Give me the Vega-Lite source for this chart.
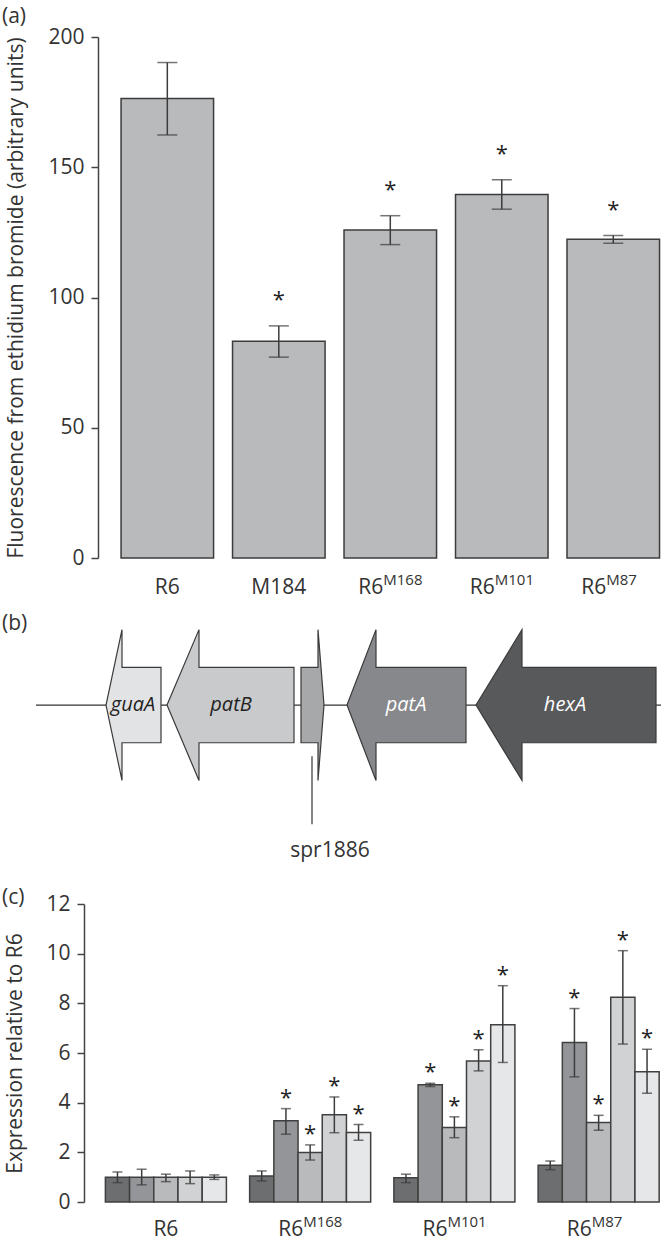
{
  "$schema": "https://vega.github.io/schema/vega-lite/v6.json",
  "padding": {"left": 2, "top": 6, "right": 0, "bottom": 4},
  "spacing": 2,
  "config": {
    "font": "Open Sans",
    "view": {"stroke": null},
    "axis": {"domainColor": "#444", "tickColor": "#444", "labelColor": "#333", "titleColor": "#333", "labelFontSize": 21, "titleFontSize": 21, "titleFontWeight": "normal", "grid": false, "tickSize": 7, "domainWidth": 1.5, "tickWidth": 1.5, "labelPadding": 7},
    "title": {"fontSize": 21, "fontWeight": "normal", "color": "#333", "anchor": "start", "frame": "group"}
  },
  "resolve": {"scale": {"fill": "independent"}},
  "vconcat": [
    {
      "width": 563,
      "height": 521,
      "title": {"text": "(a)", "dx": -96, "offset": -1},
      "data": {"values": [
        {"strain": "R6", "base": "R6", "sup": "", "mean": 176.4, "lo": 162.4, "hi": 190.2, "sig": false},
        {"strain": "M184", "base": "M184", "sup": "", "mean": 83.2, "lo": 77.1, "hi": 89.1, "sig": true},
        {"strain": "R6M168", "base": "R6", "sup": "M168", "mean": 125.9, "lo": 120.3, "hi": 131.4, "sig": true},
        {"strain": "R6M101", "base": "R6", "sup": "M101", "mean": 139.5, "lo": 133.9, "hi": 145.2, "sig": true},
        {"strain": "R6M87", "base": "R6", "sup": "M87", "mean": 122.4, "lo": 120.8, "hi": 123.8, "sig": true}
      ]},
      "encoding": {
        "x": {"field": "strain", "type": "nominal", "sort": null, "axis": null, "scale": {"paddingInner": 0.17, "paddingOuter": 0.11, "align": 0.94}}
      },
      "layer": [
        {
          "mark": {"type": "bar", "fill": "#b9babc", "stroke": "#3c3c3c", "strokeWidth": 1.5},
          "encoding": {"y": {"field": "mean", "type": "quantitative", "scale": {"domain": [0, 200]}, "title": "Fluorescence from ethidium bromide (arbitrary units)", "axis": {"values": [0, 50, 100, 150, 200], "titlePadding": 21}}}
        },
        {
          "mark": {"type": "rule", "color": "#3c3c3c", "strokeWidth": 1.5},
          "encoding": {"y": {"field": "lo", "type": "quantitative", "title": "Fluorescence from ethidium bromide (arbitrary units)"}, "y2": {"field": "hi"}}
        },
        {
          "mark": {"type": "tick", "color": "#3c3c3c", "size": 20, "thickness": 1.5},
          "encoding": {"y": {"field": "hi", "type": "quantitative", "title": "Fluorescence from ethidium bromide (arbitrary units)"}}
        },
        {
          "mark": {"type": "tick", "color": "#3c3c3c", "size": 20, "thickness": 1.5},
          "encoding": {"y": {"field": "lo", "type": "quantitative", "title": "Fluorescence from ethidium bromide (arbitrary units)"}}
        },
        {
          "transform": [{"filter": "datum.sig"}],
          "mark": {"type": "text", "text": "*", "fontSize": 22, "color": "#222", "baseline": "alphabetic", "dy": -19},
          "encoding": {"y": {"field": "hi", "type": "quantitative", "title": "Fluorescence from ethidium bromide (arbitrary units)"}}
        },
        {
          "transform": [{"filter": "datum.sup == ''"}],
          "mark": {"type": "text", "fontSize": 21, "color": "#333", "baseline": "alphabetic", "align": "center", "dy": 36},
          "encoding": {"y": {"datum": 0, "type": "quantitative"}, "text": {"field": "base"}}
        },
        {
          "transform": [{"filter": "datum.sup != ''"}],
          "mark": {"type": "text", "fontSize": 21, "color": "#333", "baseline": "alphabetic", "align": "right", "dy": 36, "dx": -7},
          "encoding": {"y": {"datum": 0, "type": "quantitative"}, "text": {"field": "base"}}
        },
        {
          "transform": [{"filter": "datum.sup != ''"}],
          "mark": {"type": "text", "fontSize": 15, "color": "#333", "baseline": "alphabetic", "align": "left", "dy": 27, "dx": -7},
          "encoding": {"y": {"datum": 0, "type": "quantitative"}, "text": {"field": "sup"}}
        }
      ]
    },
    {
      "width": 563,
      "height": 285,
      "title": {"text": "(b)", "dx": -96, "offset": -34},
      "layer": [
        {
          "data": {"values": [{"pos": 0, "v": 0}, {"pos": 6250, "v": 0}]},
          "mark": {"type": "line", "color": "#333", "strokeWidth": 1.2},
          "encoding": {
            "x": {"field": "pos", "type": "quantitative", "scale": {"domain": [620, 6250], "nice": false, "zero": false}, "axis": null},
            "y": {"field": "v", "type": "quantitative", "scale": {"domain": [-2.387, 1.393], "nice": false, "zero": false}, "axis": null}
          }
        },
        {
          "data": {"values": [
            {"feature": "guaA", "pos": 700, "top": 0, "bot": 0},
            {"feature": "guaA", "pos": 860, "top": 1, "bot": -1},
            {"feature": "guaA", "pos": 860, "top": 0.5, "bot": -0.5},
            {"feature": "guaA", "pos": 1250, "top": 0.5, "bot": -0.5},
            {"feature": "patB", "pos": 1310, "top": 0, "bot": 0},
            {"feature": "patB", "pos": 1630, "top": 1, "bot": -1},
            {"feature": "patB", "pos": 1630, "top": 0.5, "bot": -0.5},
            {"feature": "patB", "pos": 2580, "top": 0.5, "bot": -0.5},
            {"feature": "spr1886", "pos": 2650, "top": 0.5, "bot": -0.5},
            {"feature": "spr1886", "pos": 2820, "top": 0.5, "bot": -0.5},
            {"feature": "spr1886", "pos": 2820, "top": 1, "bot": -1},
            {"feature": "spr1886", "pos": 2880, "top": 0, "bot": 0},
            {"feature": "patA", "pos": 3110, "top": 0, "bot": 0},
            {"feature": "patA", "pos": 3400, "top": 1, "bot": -1},
            {"feature": "patA", "pos": 3400, "top": 0.5, "bot": -0.5},
            {"feature": "patA", "pos": 4300, "top": 0.5, "bot": -0.5},
            {"feature": "hexA", "pos": 4400, "top": 0, "bot": 0},
            {"feature": "hexA", "pos": 4860, "top": 1, "bot": -1},
            {"feature": "hexA", "pos": 4860, "top": 0.5, "bot": -0.5},
            {"feature": "hexA", "pos": 6200, "top": 0.5, "bot": -0.5}
          ]},
          "mark": {"type": "area", "orient": "vertical", "stroke": "#3a3a3a", "strokeWidth": 1.2, "fillOpacity": 1},
          "encoding": {
            "x": {"field": "pos", "type": "quantitative"},
            "y": {"field": "top", "type": "quantitative"},
            "y2": {"field": "bot"},
            "fill": {"field": "feature", "type": "nominal", "legend": null, "scale": {"domain": ["guaA", "patB", "spr1886", "patA", "hexA"], "range": ["#e2e3e5", "#c9cacc", "#a7a8aa", "#87888b", "#58595b"]}}
          }
        },
        {
          "data": {"values": [{"pos": 2760, "a": -0.68, "b": -1.58}]},
          "mark": {"type": "rule", "color": "#333", "strokeWidth": 1.2},
          "encoding": {"x": {"field": "pos", "type": "quantitative"}, "y": {"field": "a", "type": "quantitative"}, "y2": {"field": "b"}}
        },
        {
          "data": {"values": [
            {"name": "guaA", "pos": 970, "v": 0, "tone": "dark"},
            {"name": "patB", "pos": 1950, "v": 0, "tone": "dark"},
            {"name": "patA", "pos": 3700, "v": 0, "tone": "light"},
            {"name": "hexA", "pos": 5290, "v": 0, "tone": "light"}
          ]},
          "mark": {"type": "text", "fontSize": 20, "fontStyle": "italic", "baseline": "middle", "align": "center"},
          "encoding": {
            "x": {"field": "pos", "type": "quantitative"},
            "y": {"field": "v", "type": "quantitative"},
            "text": {"field": "name"},
            "color": {"field": "tone", "type": "nominal", "legend": null, "scale": {"domain": ["dark", "light"], "range": ["#222222", "#ffffff"]}}
          }
        },
        {
          "data": {"values": [{"name": "spr1886", "pos": 2940, "v": -1.94}]},
          "mark": {"type": "text", "fontSize": 21, "baseline": "middle", "align": "center", "color": "#333"},
          "encoding": {"x": {"field": "pos", "type": "quantitative"}, "y": {"field": "v", "type": "quantitative"}, "text": {"field": "name"}}
        }
      ]
    },
    {
      "width": 563,
      "height": 298,
      "title": {"text": "(c)", "dx": -96, "offset": -15},
      "data": {"values": [
        {"group": "R6", "gene": "hexA", "mean": 1.0, "lo": 0.78, "hi": 1.21, "sig": false},
        {"group": "R6", "gene": "patA", "mean": 1.0, "lo": 0.69, "hi": 1.32, "sig": false},
        {"group": "R6", "gene": "spr1886", "mean": 1.0, "lo": 0.82, "hi": 1.12, "sig": false},
        {"group": "R6", "gene": "patB", "mean": 1.0, "lo": 0.74, "hi": 1.25, "sig": false},
        {"group": "R6", "gene": "guaA", "mean": 1.0, "lo": 0.91, "hi": 1.09, "sig": false},
        {"group": "R6M168", "gene": "hexA", "mean": 1.05, "lo": 0.85, "hi": 1.25, "sig": false},
        {"group": "R6M168", "gene": "patA", "mean": 3.27, "lo": 2.73, "hi": 3.76, "sig": true},
        {"group": "R6M168", "gene": "spr1886", "mean": 1.99, "lo": 1.69, "hi": 2.3, "sig": true},
        {"group": "R6M168", "gene": "patB", "mean": 3.51, "lo": 2.79, "hi": 4.23, "sig": true},
        {"group": "R6M168", "gene": "guaA", "mean": 2.8, "lo": 2.49, "hi": 3.12, "sig": true},
        {"group": "R6M101", "gene": "hexA", "mean": 0.98, "lo": 0.78, "hi": 1.12, "sig": false},
        {"group": "R6M101", "gene": "patA", "mean": 4.72, "lo": 4.65, "hi": 4.78, "sig": true},
        {"group": "R6M101", "gene": "spr1886", "mean": 3.0, "lo": 2.59, "hi": 3.43, "sig": true},
        {"group": "R6M101", "gene": "patB", "mean": 5.68, "lo": 5.28, "hi": 6.13, "sig": true},
        {"group": "R6M101", "gene": "guaA", "mean": 7.14, "lo": 5.62, "hi": 8.71, "sig": true},
        {"group": "R6M87", "gene": "hexA", "mean": 1.48, "lo": 1.3, "hi": 1.65, "sig": false},
        {"group": "R6M87", "gene": "patA", "mean": 6.42, "lo": 5.04, "hi": 7.79, "sig": true},
        {"group": "R6M87", "gene": "spr1886", "mean": 3.2, "lo": 2.89, "hi": 3.49, "sig": true},
        {"group": "R6M87", "gene": "patB", "mean": 8.24, "lo": 6.36, "hi": 10.12, "sig": true},
        {"group": "R6M87", "gene": "guaA", "mean": 5.25, "lo": 4.38, "hi": 6.15, "sig": true}
      ]},
      "encoding": {
        "x": {"field": "group", "type": "nominal", "sort": ["R6", "R6M168", "R6M101", "R6M87"], "axis": null, "scale": {"paddingInner": 0.161, "paddingOuter": 0.032, "align": 0.8}}
      },
      "layer": [
        {
          "mark": {"type": "bar", "stroke": "#404040", "strokeWidth": 1.5},
          "encoding": {
            "xOffset": {"field": "gene", "type": "nominal", "sort": ["hexA", "patA", "spr1886", "patB", "guaA"], "scale": {"paddingInner": 0, "paddingOuter": 0}},
            "y": {"field": "mean", "type": "quantitative", "scale": {"domain": [0, 12]}, "title": "Expression relative to R6", "axis": {"values": [0, 2, 4, 6, 8, 10, 12], "offset": 14, "titlePadding": 20}},
            "fill": {"field": "gene", "type": "nominal", "legend": null, "scale": {"domain": ["hexA", "patA", "spr1886", "patB", "guaA"], "range": ["#6d6e70", "#939598", "#b9babc", "#d1d2d4", "#e6e7e8"]}}
          }
        },
        {
          "mark": {"type": "rule", "color": "#3c3c3c", "strokeWidth": 1.5},
          "encoding": {
            "xOffset": {"field": "gene", "type": "nominal", "sort": ["hexA", "patA", "spr1886", "patB", "guaA"]},
            "y": {"field": "lo", "type": "quantitative", "title": "Expression relative to R6"}, "y2": {"field": "hi"}
          }
        },
        {
          "mark": {"type": "tick", "color": "#3c3c3c", "size": 10, "thickness": 1.5},
          "encoding": {
            "xOffset": {"field": "gene", "type": "nominal", "sort": ["hexA", "patA", "spr1886", "patB", "guaA"]},
            "y": {"field": "hi", "type": "quantitative", "title": "Expression relative to R6"}
          }
        },
        {
          "mark": {"type": "tick", "color": "#3c3c3c", "size": 10, "thickness": 1.5},
          "encoding": {
            "xOffset": {"field": "gene", "type": "nominal", "sort": ["hexA", "patA", "spr1886", "patB", "guaA"]},
            "y": {"field": "lo", "type": "quantitative", "title": "Expression relative to R6"}
          }
        },
        {
          "transform": [{"filter": "datum.sig"}],
          "mark": {"type": "text", "text": "*", "fontSize": 22, "color": "#222", "baseline": "alphabetic", "dy": -4},
          "encoding": {
            "xOffset": {"field": "gene", "type": "nominal", "sort": ["hexA", "patA", "spr1886", "patB", "guaA"]},
            "y": {"field": "hi", "type": "quantitative", "title": "Expression relative to R6"}
          }
        },
        {
          "data": {"values": [
            {"group": "R6", "base": "R6", "sup": ""},
            {"group": "R6M168", "base": "R6", "sup": "M168"},
            {"group": "R6M101", "base": "R6", "sup": "M101"},
            {"group": "R6M87", "base": "R6", "sup": "M87"}
          ]},
          "layer": [
            {
              "transform": [{"filter": "datum.sup == ''"}],
              "mark": {"type": "text", "fontSize": 21, "color": "#333", "baseline": "alphabetic", "align": "center", "dy": 34},
              "encoding": {"y": {"datum": 0, "type": "quantitative"}, "text": {"field": "base"}}
            },
            {
              "transform": [{"filter": "datum.sup != ''"}],
              "mark": {"type": "text", "fontSize": 21, "color": "#333", "baseline": "alphabetic", "align": "right", "dy": 34, "dx": -7},
              "encoding": {"y": {"datum": 0, "type": "quantitative"}, "text": {"field": "base"}}
            },
            {
              "transform": [{"filter": "datum.sup != ''"}],
              "mark": {"type": "text", "fontSize": 15, "color": "#333", "baseline": "alphabetic", "align": "left", "dy": 25, "dx": -7},
              "encoding": {"y": {"datum": 0, "type": "quantitative"}, "text": {"field": "sup"}}
            }
          ]
        }
      ]
    }
  ]
}
